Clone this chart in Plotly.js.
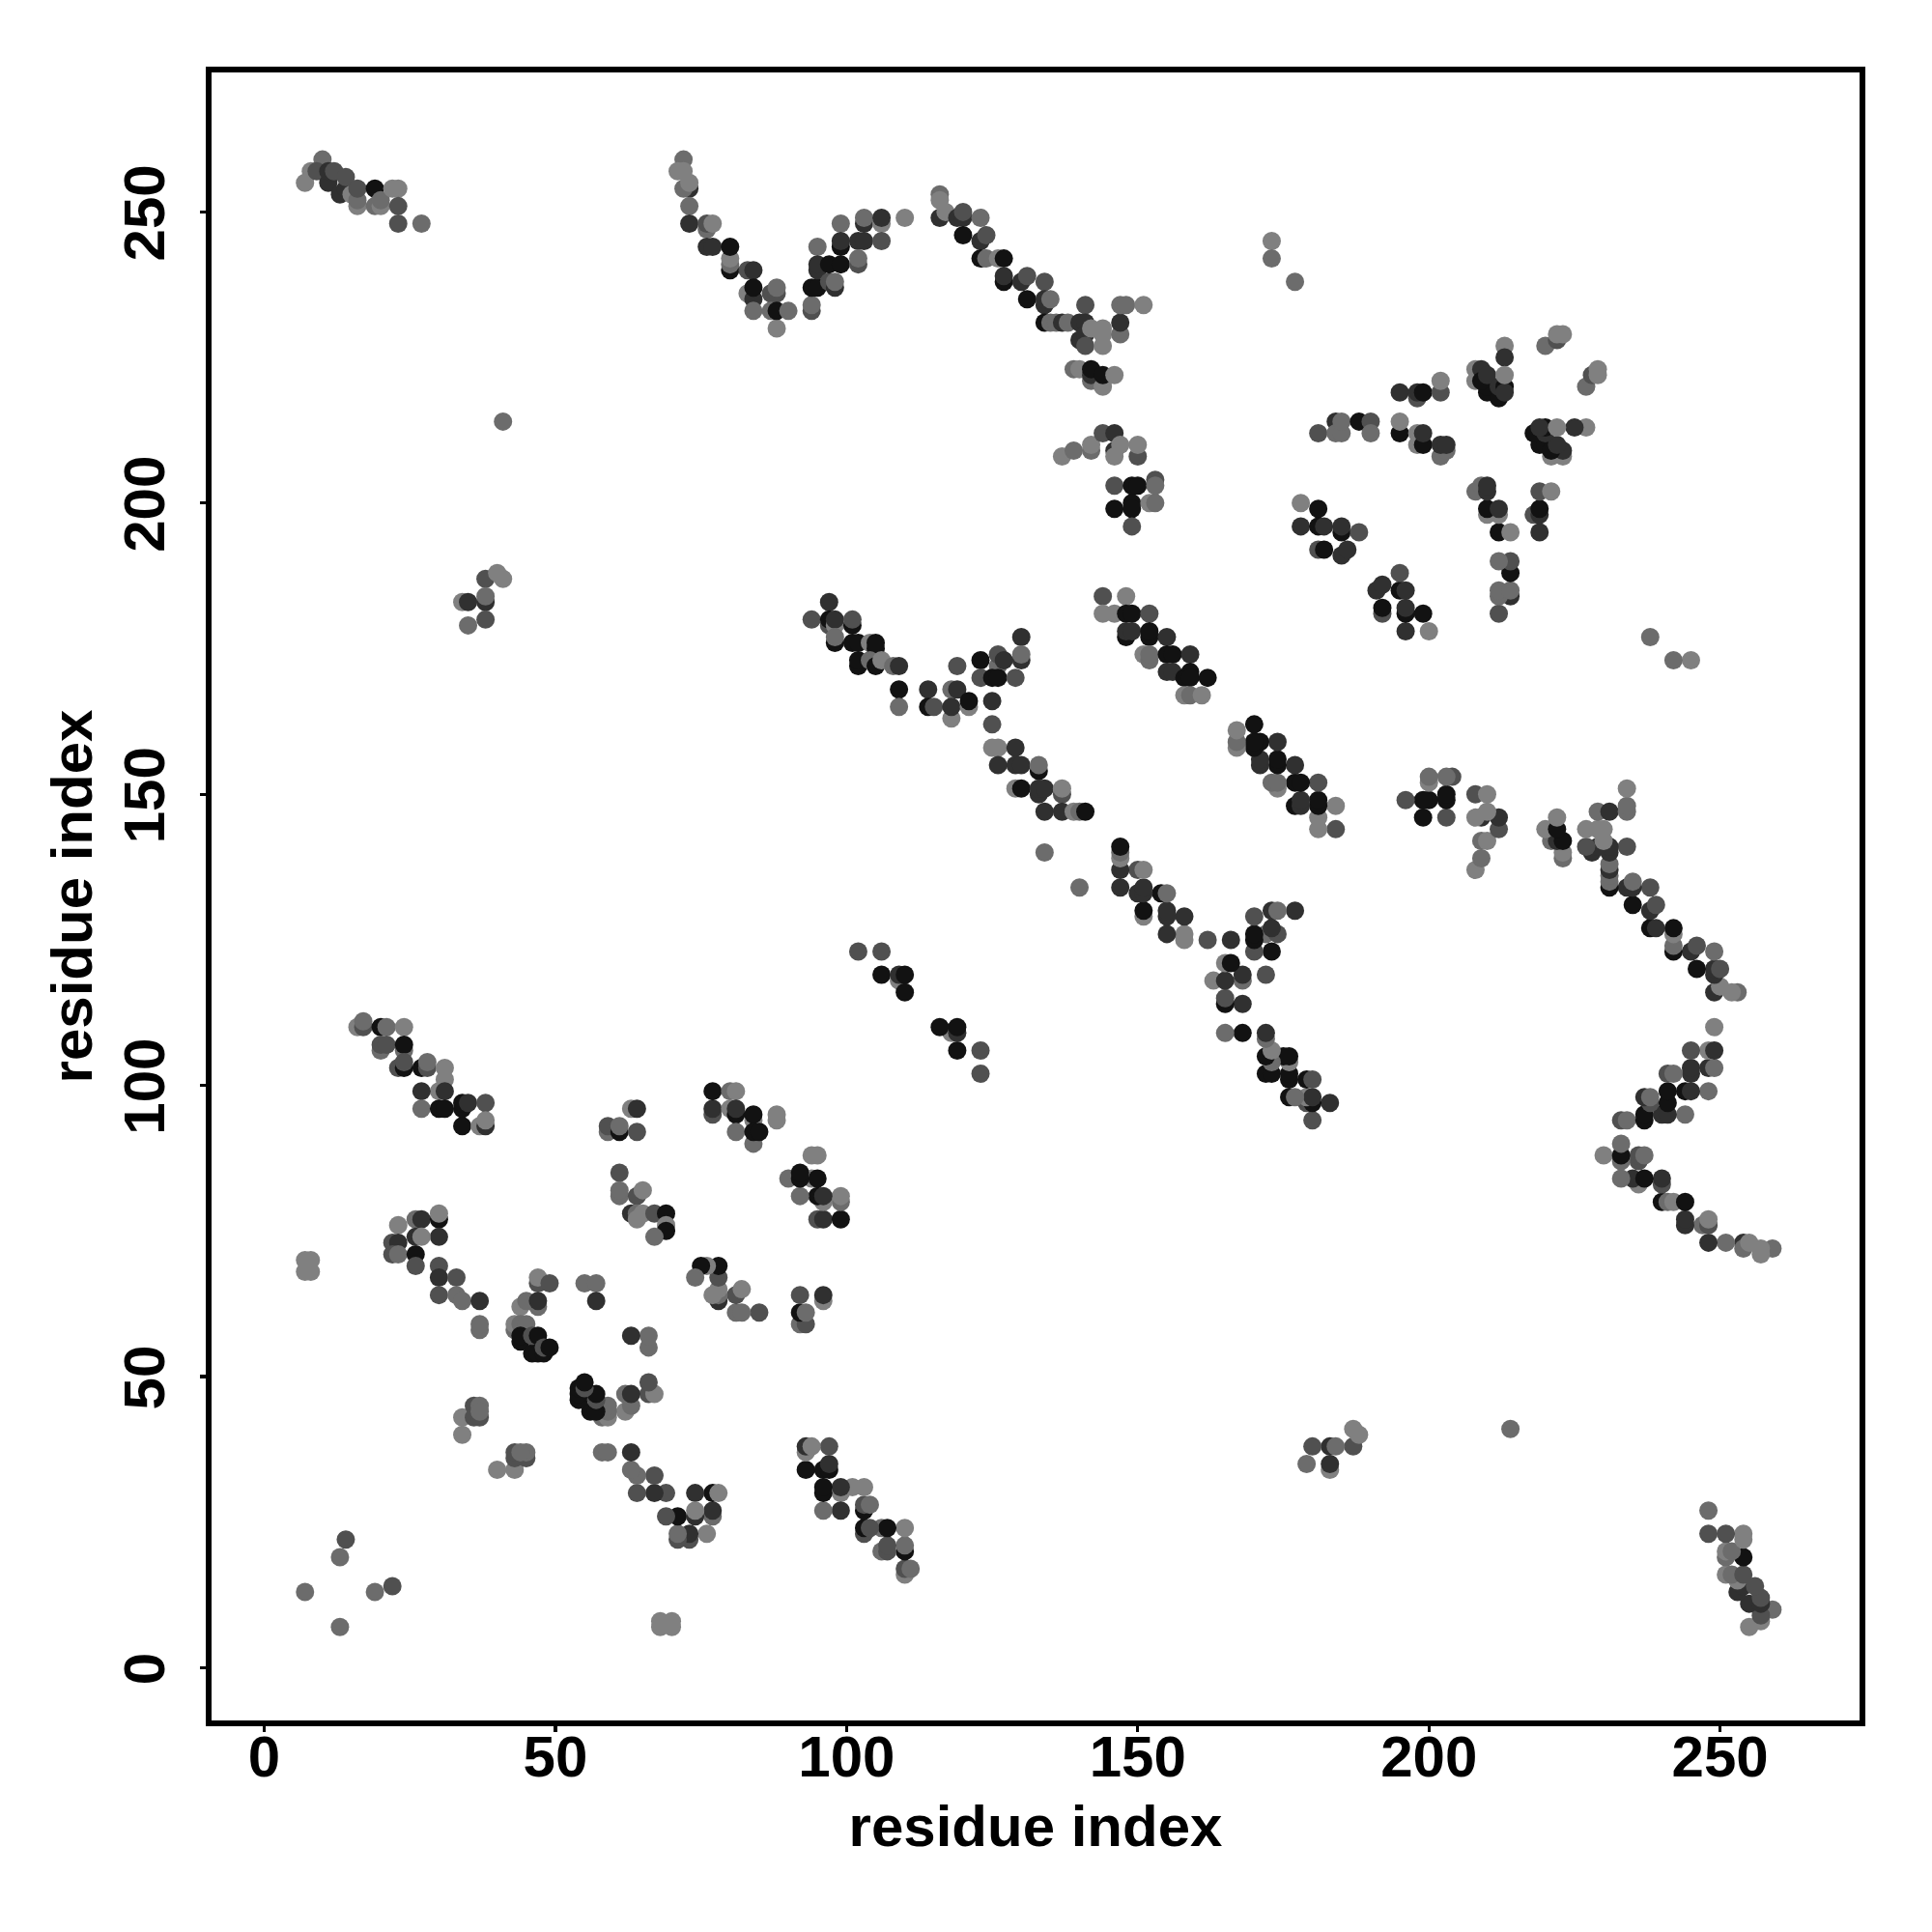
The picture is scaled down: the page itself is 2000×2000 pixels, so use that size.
<!DOCTYPE html>
<html><head><meta charset="utf-8">
<script src="https://cdn.plot.ly/plotly-3.0.1.min.js"></script>
<style>html,body{margin:0;padding:0;background:#fff}</style></head>
<body><div id="chart" style="width:2000px;height:2000px"></div>
<script>
// grey levels
const B=18,D=48,M=80,G=108,L=128;
// contacts [residue i, residue j, grey] – the map is symmetric, each contact is drawn at (i,j) and (j,i)
const nearStart=[[7,13,G],[13,19,G],[14,22,M]];
const endContacts=[[7,255,L],[8,257,L],[10,259,G],[9,257,M],[11,255,D],[13,253,D],[11,257,D],[14,254,D],[12,257,M],[14,256,M],[15,253,L],[16,251,L],[19,251,G],[16,252,G],[16,254,M],[19,254,B],[20,251,L],[20,252,G],[22,254,L],[23,254,L],[23,251,M],[23,248,M],[27,248,G]];
const arcLeft=[[72,259,G],[71,257,L],[72,257,L],[73,254,D],[72,254,G],[73,255,L],[73,251,G],[73,248,D],[76,247,G],[76,248,M],[77,248,L],[76,244,D],[77,244,D],[80,240,B],[80,241,G],[80,242,L],[80,244,B],[83,240,M],[84,240,D],[83,236,L],[84,235,D],[84,237,B],[84,233,G],[87,236,M],[88,236,M],[88,237,G],[87,233,G],[88,230,L],[88,233,B],[90,233,G],[94,233,M],[94,234,G],[94,237,B],[95,237,B],[95,244,G],[95,240,D],[95,241,D],[97,238,M],[97,241,B],[98,237,D],[98,238,G],[99,248,G],[99,244,B],[99,241,B],[99,245,D],[102,245,D],[103,245,D],[102,241,M],[102,242,G],[103,248,D],[103,249,G],[106,248,L],[106,249,D],[106,245,M],[110,249,L]];
const arcRight=[[116,249,D],[116,253,G],[116,252,L],[117,250,L],[119,249,D],[120,249,D],[120,250,M],[123,249,G],[120,246,B],[123,245,D],[124,246,M],[123,242,B],[124,242,G],[126,242,L],[127,242,B],[127,238,B],[127,239,D],[130,238,D],[131,239,M],[131,235,B],[134,238,M],[134,234,D],[134,235,D],[135,235,G],[134,231,B],[135,231,G],[136,231,G],[137,231,D],[138,231,G],[140,228,D],[140,231,D],[141,234,M],[141,231,D],[141,229,D],[141,227,M],[142,230,L],[144,230,L],[144,229,L],[144,227,L],[147,229,G],[147,231,D],[147,234,G],[148,234,G],[151,234,L]];
const arcTip=[[139,223,G],[140,223,L],[142,221,G],[142,222,D],[142,223,B],[144,220,L],[144,222,B],[146,222,L]];
const strandA=[[137,208,L],[139,209,G],[142,209,G],[142,210,L],[144,212,M],[146,212,D],[146,209,D],[146,208,L],[147,210,L],[150,208,M],[150,210,L]];
const strandB=[[146,203,M],[149,203,B],[150,203,B],[153,204,M],[153,203,G],[146,199,B],[149,200,B],[149,199,B],[152,200,L],[153,200,G],[149,196,M]];
const farPoints=[[173,245,L],[173,242,G],[177,238,G],[41,214,G],[134,140,G]];
const strandC=[[178,200,L],[181,199,B],[178,196,D],[181,196,B],[182,196,D],[185,195,B],[185,196,D],[188,195,M],[181,192,M],[182,192,B],[185,191,D],[186,192,D]];
const strandD=[[144,184,M],[148,184,L],[144,181,L],[146,181,L],[148,181,B],[149,181,B],[152,181,M],[148,177,B],[148,178,D],[149,178,D],[152,177,B],[152,178,B],[155,177,D],[151,174,L],[152,173,G],[152,174,G],[155,174,B],[156,174,B],[159,174,D],[155,171,D],[156,171,D],[159,171,B],[158,170,B],[159,170,B],[162,170,B],[158,167,L],[159,167,G],[161,167,L]];
const strandE=[[97,183,D],[94,180,M],[97,179,M],[97,180,B],[98,179,L],[98,180,D],[101,179,B],[101,180,M],[98,176,B],[98,177,G],[101,176,B],[102,176,B],[104,176,L],[105,175,B],[105,176,B],[102,172,B],[102,173,B],[104,173,G],[105,172,B],[106,173,L],[108,172,G],[109,172,D],[109,168,B],[109,165,G],[114,168,D],[114,165,B],[115,165,M],[118,163,L],[118,168,G],[119,168,D],[119,172,M],[118,165,D],[121,165,L],[121,166,B],[123,173,B],[123,170,M],[125,166,D],[125,162,M],[126,172,G],[126,174,M],[127,173,D],[125,170,B],[126,170,B],[130,177,D],[130,173,D],[130,174,G],[129,170,M]];
const strandF=[[125,158,L],[126,158,L],[129,158,D],[126,155,D],[129,155,D],[130,155,D],[133,154,B],[133,155,G],[129,151,L],[130,151,B],[133,150,D],[133,151,D],[134,151,D],[137,150,M],[137,151,L],[134,147,D],[137,147,D],[139,147,L],[140,147,G],[141,147,B]];
const strandG=[[34,183,L],[35,183,D],[38,187,M],[40,188,L],[41,187,L],[38,183,D],[38,184,G],[35,179,G],[38,180,M]];
const cornerH=[[181,212,M],[184,214,D],[184,212,G],[185,212,G],[185,214,G],[188,214,B],[190,214,M],[190,212,G],[195,219,D],[198,218,M],[198,219,D],[199,219,B],[202,219,M],[202,221,L],[195,212,B],[195,214,L],[198,210,L],[198,212,L],[199,210,B],[199,212,D],[202,208,G],[203,209,G],[202,210,D],[203,210,D]];
const cornerI=[[213,227,L],[213,225,D],[208,223,L],[208,221,L],[209,223,D],[210,219,B],[210,220,B],[209,221,B],[210,222,D],[212,218,B],[212,220,D],[213,220,B],[213,219,D],[213,222,L],[220,227,G],[222,228,M],[222,229,L],[223,229,L]];
const pairsJ=[[102,123,M],[106,123,M],[106,119,B],[109,118,L],[109,119,D],[110,119,B],[110,116,B]];
const sheetK=[[7,70,L],[8,70,L],[7,68,L],[8,68,L]];
const sheetL=[[16,110,L],[17,110,M],[17,111,G],[20,110,B],[21,110,G],[24,110,L],[20,106,G],[20,107,M],[21,107,M],[24,106,G],[24,107,B],[23,103,M],[24,103,B],[24,104,M],[27,103,B],[28,103,M],[28,104,G],[31,103,L],[31,101,L],[30,99,L],[27,99,D],[31,99,D],[27,96,G],[30,96,B],[31,96,B],[34,96,B],[34,97,B],[35,97,D],[38,97,M],[34,93,B],[37,93,L],[38,93,D],[38,94,L]];
const sheetM=[[23,76,L],[26,77,G],[27,77,D],[30,77,B],[30,78,L],[30,74,D],[22,73,M],[23,73,D],[22,71,M],[23,71,G],[26,71,B],[26,69,M],[26,74,D],[27,74,L],[30,69,M],[30,67,D],[33,67,M],[30,64,M],[33,64,G],[34,63,G],[37,63,D],[37,58,G],[37,59,G]];
const sheetN=[[34,43,L],[34,40,L],[36,45,M],[37,45,G],[36,43,M],[37,43,M],[37,44,G]];
const sheetO=[[47,66,M],[47,67,L],[49,66,M],[44,62,L],[47,62,G],[45,63,G],[47,63,D],[43,58,G],[43,59,L],[44,59,G],[45,59,G],[44,56,B],[44,57,B],[46,54,B],[47,54,B],[46,57,M],[47,57,B],[48,54,B],[48,55,M],[49,55,B]];
const sheetP=[[55,66,G],[57,66,G],[57,63,D]];
const sheetQ=[[63,96,L],[64,96,D],[59,92,G],[59,93,M],[61,92,B],[61,93,G],[64,92,M]];
const sheetR=[[61,85,M],[61,81,G],[61,82,G],[64,81,M],[65,82,L],[63,78,D],[64,78,G],[65,78,L],[64,77,L],[67,78,M],[69,78,B],[69,76,L],[69,75,B],[67,74,G]];
const sheetS=[[77,95,M],[77,96,D],[77,99,B],[80,99,G],[81,99,L],[80,96,L],[81,95,B],[81,96,D],[84,94,L],[84,95,B],[81,92,G],[84,90,G],[84,92,B],[85,92,B],[88,95,L],[88,94,L]];
const tickValues=[0,50,100,150,200,250];
const axisLabel="residue index";

const clusters=[nearStart,sheetK,sheetL,sheetM,sheetN,sheetO,sheetP,sheetQ,sheetR,sheetS,strandG,strandE,strandF,pairsJ,arcLeft,arcRight,arcTip,endContacts,strandA,strandB,strandC,strandD,cornerH,cornerI,farPoints];
const contacts=clusters.flat();
const xs=contacts.map(c=>c[0]).concat(contacts.map(c=>c[1]));
const ys=contacts.map(c=>c[1]).concat(contacts.map(c=>c[0]));
const greys=contacts.concat(contacts).map(c=>`rgb(${c[2]},${c[2]},${c[2]})`);

const font={family:"Liberation Sans, Arial, sans-serif",size:60,color:"#000",weight:700};
const titleFont=Object.assign({},font,{size:60});
function axis(extra){return Object.assign({range:[-9.05,273.95],tickmode:"array",tickvals:tickValues,ticktext:tickValues.map(String),
  ticks:"outside",ticklen:6,tickwidth:3.3,tickcolor:"#000",showline:true,mirror:true,linewidth:6,linecolor:"#000",
  showgrid:false,zeroline:false,tickfont:font,automargin:false},extra);}
Plotly.newPlot("chart",[{type:"scatter",mode:"markers",x:xs,y:ys,
  marker:{size:19,color:greys,line:{width:0}},hoverinfo:"skip"}],{
  width:2000,height:2000,showlegend:false,paper_bgcolor:"#fff",plot_bgcolor:"#fff",
  margin:{l:219,r:75,t:75,b:219,pad:0},
  xaxis:axis({ticklabelstandoff:-26,title:{text:axisLabel,font:titleFont,standoff:20}}),
  yaxis:axis({tickangle:-90,ticklabelstandoff:13,ticklabelshift:10,title:{text:axisLabel,font:titleFont,standoff:3}})
},{displayModeBar:false,staticPlot:true});
</script></body></html>
